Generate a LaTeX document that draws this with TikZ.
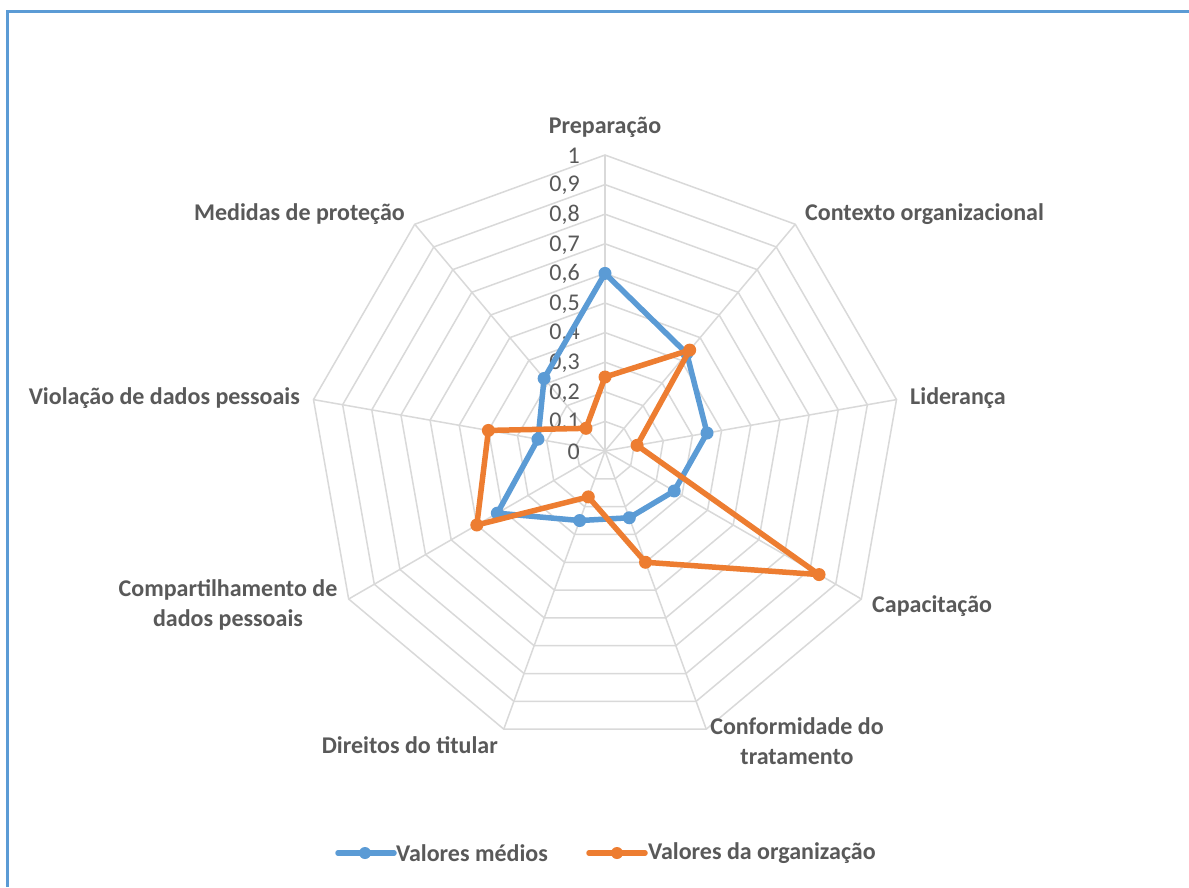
\documentclass[tikz,border=0pt]{standalone}
\usepackage{fontspec}
\setmainfont{Carlito}
\definecolor{gridc}{HTML}{D9D9D9}
\definecolor{txt}{HTML}{595959}
\definecolor{cblue}{HTML}{5B9BD5}
\definecolor{corange}{HTML}{ED7D31}
\begin{document}
\begin{tikzpicture}[x=1pt,y=-1pt,
  gridline/.style={draw=gridc, line width=1.5pt},
  ticklab/.style={anchor=east, text=txt, font=\fontsize{24}{28}\selectfont, inner sep=0pt},
  cat/.style={text=txt, font=\bfseries\fontsize{24}{29.5}\selectfont, inner sep=0pt, align=center},
  legtxt/.style={text=txt, font=\bfseries\fontsize{24}{28}\selectfont, inner sep=0pt, anchor=west},
  serie/.style={line width=5.5pt, line join=round, line cap=round},
  dotb/.style={fill=cblue},
  doto/.style={fill=corange}]
\useasboundingbox (0,0) rectangle (1189,887);
\fill[white] (0,0) rectangle (1189,887);
\draw[cblue, line width=2.5pt] (7.5,887) -- (7.5,11.5) -- (1189,11.5);
% grid
\coordinate (c) at (605,451);
\foreach \l in {1,...,10} {
  \draw[gridline] (605,{451-29.6*\l})
    \foreach \k in {1,...,8} { -- ({605+29.6*\l*sin(40*\k)},{451-29.6*\l*cos(40*\k)}) } -- cycle;
}
\foreach \k in {0,...,8} {
  \coordinate (v\k) at ({605+296*sin(40*\k)},{451-296*cos(40*\k)});
  \draw[gridline] (c) -- (v\k);
}
% tick labels
\node[ticklab] (t0) at (580,452) {0};
\node[ticklab] (t1) at (580,{452-29.6*1}) {0,1};
\node[ticklab] (t2) at (580,{452-29.6*2}) {0,2};
\node[ticklab] (t3) at (580,{452-29.6*3}) {0,3};
\node[ticklab] (t4) at (580,{452-29.6*4}) {0,4};
\node[ticklab] (t5) at (580,{452-29.6*5}) {0,5};
\node[ticklab] (t6) at (580,{452-29.6*6}) {0,6};
\node[ticklab] (t7) at (580,{452-29.6*7}) {0,7};
\node[ticklab] (t8) at (580,{452-29.6*8}) {0,8};
\node[ticklab] (t9) at (580,{452-29.6*9}) {0,9};
\node[ticklab] (t10) at (580,{452-29.6*10}) {1};
% data
\foreach \v [count=\k from 0] in {0.6,0.43,0.35,0.27,0.24,0.25,0.42,0.23,0.32} {
  \coordinate (b\k) at ({605+296*\v*sin(40*\k)},{451-296*\v*cos(40*\k)});
}
\foreach \v [count=\k from 0] in {0.25,0.445,0.11,0.835,0.40,0.165,0.50,0.40,0.10} {
  \coordinate (o\k) at ({605+296*\v*sin(40*\k)},{451-296*\v*cos(40*\k)});
}
\draw[serie, cblue] (b0) -- (b1) -- (b2) -- (b3) -- (b4) -- (b5) -- (b6) -- (b7) -- (b8) -- cycle;
\foreach \k in {0,...,8} { \fill[dotb] (b\k) circle (6.5pt); }
\draw[serie, corange] (o0) -- (o1) -- (o2) -- (o3) -- (o4) -- (o5) -- (o6) -- (o7) -- (o8) -- cycle;
\foreach \k in {0,...,8} { \fill[doto] (o\k) circle (6.5pt); }
% category labels
\node[cat] (l0) at (605,127) {Preparação};
\node[cat, anchor=west] (l1) at (805,214) {Contexto organizacional};
\node[cat, anchor=west] (l2) at (910,398) {Liderança};
\node[cat, anchor=west] (l3) at (872,606) {Capacitação};
\node[cat] (l4) at (797,741) {Conformidade do\\tratamento};
\node[cat, anchor=east] (l5) at (498,745) {Direitos do titular};
\node[cat] (l6) at (228,605) {Compartilhamento de\\dados pessoais};
\node[cat, anchor=east] (l7) at (300,398) {Violação de dados pessoais};
\node[cat, anchor=east] (l8) at (405,214) {Medidas de proteção};
% legend
\coordinate (lb1) at (338,853);
\coordinate (lb2) at (394,853);
\coordinate (lbm) at (365,853);
\draw[serie, cblue] (lb1) -- (lb2);
\fill[dotb] (lbm) circle (6pt);
\node[legtxt] (lbt) at (396,853) {Valores médios};
\coordinate (lo1) at (589,853);
\coordinate (lo2) at (645,853);
\coordinate (lom) at (617,853);
\draw[serie, corange] (lo1) -- (lo2);
\fill[doto] (lom) circle (6pt);
\node[legtxt] (lot) at (648,853) {Valores da organização};
\end{tikzpicture}
\end{document}
